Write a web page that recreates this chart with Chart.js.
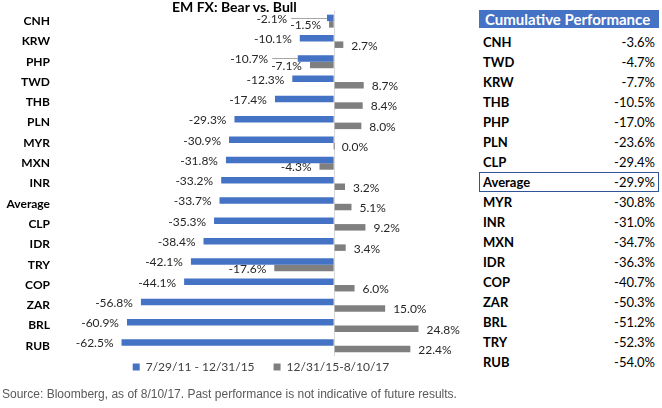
<!DOCTYPE html>
<html>
<head>
<meta charset="utf-8">
<script src="https://cdn.jsdelivr.net/npm/chart.js@4/dist/chart.umd.min.js"></script>
<style>
  html, body { margin: 0; padding: 0; background: #fff; }
  #wrap { position: relative; width: 662px; height: 408px; overflow: hidden; background: #fff; }
  #title { position: absolute; left: 172px; top: -1px; font: bold 14px Lato, sans-serif; line-height: 16px; color: #000; white-space: nowrap; }
  #c { position: absolute; left: 0; top: 0; }
  #table { position: absolute; left: 479px; top: 10px; width: 180px; font-family: Lato, sans-serif; }
  #thead { height: 18px; line-height: 18px; background: #4472C4; color: #fff; font-weight: bold; font-size: 15px; padding-left: 6px; white-space: nowrap; overflow: visible; }
  #rows { margin-top: 4px; }
  .row { height: 20px; line-height: 20px; display: flex; justify-content: space-between; padding: 0 4px 0 4px; font-size: 13px; color: #000; }
  .row .k { font-weight: bold; }
  .row.avg { outline: 1.5px solid #2F5597; outline-offset: -1px; }
  #source { position: absolute; left: 2px; top: 387px; font: 12px "Liberation Sans", Arial, sans-serif; color: #595959; white-space: nowrap; }
</style>
</head>
<body>
<div id="wrap">
  <canvas id="c" width="470" height="408"></canvas>
  <div id="title">EM FX: Bear vs. Bull</div>
  <div id="table"><div id="thead">Cumulative Performance</div><div id="rows"></div></div>
  <div id="source">Source: Bloomberg, as of 8/10/17. Past performance is not indicative of future results.</div>
</div>
<script>
// ---- Chart data ----
const categories = ['CNH','KRW','PHP','TWD','THB','PLN','MYR','MXN','INR','Average','CLP','IDR','TRY','COP','ZAR','BRL','RUB'];
const bearLabel = '7/29/11 - 12/31/15';
const bullLabel = '12/31/15-8/10/17';
const bearValues = [-2.1,-10.1,-10.7,-12.3,-17.4,-29.3,-30.9,-31.8,-33.2,-33.7,-35.3,-38.4,-42.1,-44.1,-56.8,-60.9,-62.5];
const bullValues = [-1.5,2.7,-7.1,8.7,8.4,8.0,0.0,-4.3,3.2,5.1,9.2,3.4,-17.6,6.0,15.0,24.8,22.4];

// ---- Table data ----
const tableCurrencies = ['CNH','TWD','KRW','THB','PHP','PLN','CLP','Average','MYR','INR','MXN','IDR','COP','ZAR','BRL','TRY','RUB'];
const tableValues = [-3.6,-4.7,-7.7,-10.5,-17.0,-23.6,-29.4,-29.9,-30.8,-31.0,-34.7,-36.3,-40.7,-50.3,-51.2,-52.3,-54.0];

const rowsEl = document.getElementById('rows');
tableCurrencies.forEach((c, i) => {
  const r = document.createElement('div');
  r.className = 'row' + (c === 'Average' ? ' avg' : '');
  const k = document.createElement('span'); k.className = 'k'; k.textContent = c;
  const v = document.createElement('span'); v.textContent = tableValues[i].toFixed(1) + '%';
  r.appendChild(k); r.appendChild(v);
  rowsEl.appendChild(r);
});

const BLUE = '#4472C4', GRAY = '#7F7F7F';

const valueLabels = {
  id: 'valueLabels',
  afterDatasetsDraw(chart) {
    const ctx = chart.ctx;
    ctx.save();
    ctx.font = '12px Lato, sans-serif';
    ctx.fillStyle = '#262626';
    ctx.textBaseline = 'middle';
    const m0 = chart.getDatasetMeta(0), m1 = chart.getDatasetMeta(1);
    const d0 = chart.data.datasets[0].data, d1 = chart.data.datasets[1].data;
    categories.forEach((c, i) => {
      const b0 = m0.data[i], b1 = m1.data[i];
      const t0 = d0[i].toFixed(1) + '%', t1 = d1[i].toFixed(1) + '%';
      let g = null;
      if (d1[i] < 0) {
        const right = b1.x - 8, w = ctx.measureText(t1).width;
        g = { left: right - w, right };
        ctx.textAlign = 'right'; ctx.fillText(t1, right, b1.y + 1);
      } else {
        ctx.textAlign = 'left'; ctx.fillText(t1, b1.x + 8, b1.y + 1);
      }
      let right = b0.x - 8;
      if (g && right > g.left - 3) {
        right = g.left - 3;
        ctx.save();
        ctx.strokeStyle = '#A6A6A6'; ctx.lineWidth = 1;
        ctx.beginPath();
        ctx.moveTo(right + 4, Math.round(b0.y) + 0.5);
        ctx.lineTo(b0.x, Math.round(b0.y) + 0.5);
        ctx.stroke();
        ctx.restore();
      }
      ctx.textAlign = 'right'; ctx.fillText(t0, right, b0.y + 1);
    });
    ctx.restore();
  }
};

const legendShift = {
  id: 'legendShift',
  afterLayout(chart) {
    const l = chart.legend;
    if (l) { l.top -= 14; l.bottom -= 14; }
  }
};

new Chart(document.getElementById('c'), {
  type: 'bar',
  data: {
    labels: categories,
    datasets: [
      { label: bearLabel, data: bearValues, backgroundColor: BLUE, borderWidth: 0, categoryPercentage: 0.64, barPercentage: 1.0, minBarLength: 1 },
      { label: bullLabel, data: bullValues, backgroundColor: GRAY, borderWidth: 0, categoryPercentage: 0.64, barPercentage: 1.0, minBarLength: 1 }
    ]
  },
  options: {
    indexAxis: 'y',
    responsive: false,
    animation: false,
    events: [],
    layout: { padding: { top: 11, bottom: 11, left: 0, right: 10 } },
    scales: {
      x: {
        min: -80, max: 37,
        ticks: { display: false, stepSize: 10 },
        grid: { drawTicks: false, lineWidth: 1, color: (ctx) => (ctx.tick && ctx.tick.value === 0) ? '#D9D9D9' : 'rgba(0,0,0,0)' },
        border: { display: false }
      },
      y: {
        grid: { display: false, drawTicks: false },
        border: { display: false },
        ticks: { font: { family: 'Lato, sans-serif', size: 12, weight: 'bold' }, color: '#000', padding: 12, autoSkip: false },
        afterFit(scale) { scale.width = 62; scale.paddingTop = 0; scale.paddingBottom = 0; }
      }
    },
    plugins: {
      legend: {
        position: 'bottom',
        fullSize: false,
        labels: { boxWidth: 7, boxHeight: 7, padding: 19, color: '#404040', font: { family: 'Lato, sans-serif', size: 12 } }
      },
      tooltip: { enabled: false },
      title: { display: false }
    }
  },
  plugins: [valueLabels, legendShift]
});
</script>
</body>
</html>
